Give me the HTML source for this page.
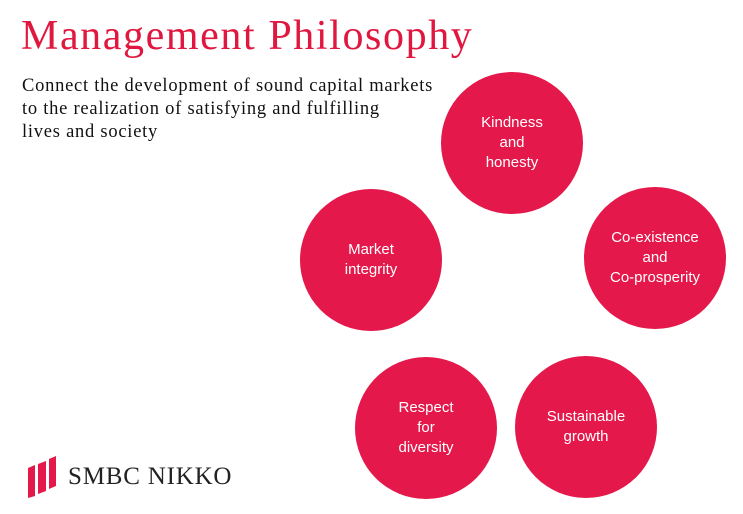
<!DOCTYPE html>
<html><head><meta charset="utf-8"><style>
body{margin:0;width:743px;height:514px;background:#fff;position:relative;overflow:hidden;font-family:"Liberation Serif",serif}
.t{position:absolute;left:21px;top:12px;font-size:42px;color:#e0173f;white-space:nowrap;letter-spacing:1.6px}
.s{position:absolute;left:22px;top:75px;font-size:18.5px;line-height:23px;color:#111;letter-spacing:0.75px;white-space:nowrap}
.c{position:absolute;width:142px;height:142px;border-radius:50%;background:#e4184a;color:#fff;font-family:"Liberation Sans",sans-serif;font-size:15px;line-height:20px;display:flex;align-items:center;justify-content:center;text-align:center}
.l{position:absolute;left:68px;top:463px;font-size:25px;color:#222;letter-spacing:0.8px}
</style></head><body>
<div class="t">Management Philosophy</div>
<div class="s">Connect the development of sound capital markets<br>to the realization of satisfying and fulfilling<br>lives and society</div>
<div class="c" style="left:441px;top:72px">Kindness<br>and<br>honesty</div>
<div class="c" style="left:584px;top:187px">Co-existence<br>and<br>Co-prosperity</div>
<div class="c" style="left:300px;top:189px">Market<br>integrity</div>
<div class="c" style="left:355px;top:357px">Respect<br>for<br>diversity</div>
<div class="c" style="left:515px;top:356px">Sustainable<br>growth</div>
<svg style="position:absolute;left:28px;top:453px" width="30" height="45">
<polygon points="0,15 7,12 7,43 0,45" fill="#e4184a"/>
<polygon points="10,11 18,8 18,38 10,41" fill="#e4184a"/>
<polygon points="21,6 28,3 28,33 21,36" fill="#e4184a"/>
</svg>
<div class="l">SMBC NIKKO</div>
</body></html>
